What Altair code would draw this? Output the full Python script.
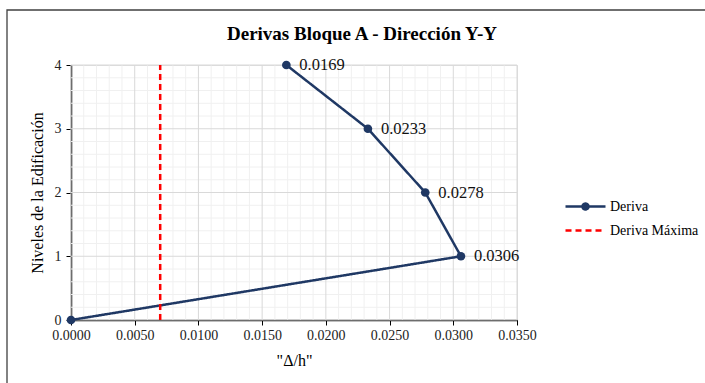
import altair as alt
import pandas as pd

# Story drift per level (Block A, Y-Y direction)
niveles = [0, 1, 2, 3, 4]
derivas = [0.0, 0.0306, 0.0278, 0.0233, 0.0169]
deriva_maxima = 0.007
serie_deriva = "Deriva"
serie_maxima = "Deriva Máxima"

# Axis ticks (major) and minor grid subdivisions
x_ticks = [0.0, 0.005, 0.01, 0.015, 0.02, 0.025, 0.03, 0.035]
y_ticks = [0, 1, 2, 3, 4]
x_minor = [round(i * 0.001, 3) for i in range(36) if i % 5 != 0]
y_minor = [round(i * 0.2, 1) for i in range(21) if i % 5 != 0]

FONT = "Liberation Serif"
NAVY = "#1F3864"
RED = "#FF0000"

deriva_df = pd.DataFrame({"serie": serie_deriva, "x": derivas, "y": niveles, "orden": niveles})
maxima_df = pd.DataFrame({"serie": serie_maxima, "x": [deriva_maxima, deriva_maxima],
                          "y": [niveles[0], niveles[-1]], "orden": [0, 1]})
lineas_df = pd.concat([deriva_df, maxima_df], ignore_index=True)
etiquetas_df = deriva_df[deriva_df["y"] > 0].copy()
etiquetas_df["texto"] = etiquetas_df["x"].map(lambda v: f"{v:.4f}")

x_axis = alt.Axis(
    values=x_ticks, format=".4f", grid=False,
    title='"Δ/h"', titleFont=FONT, titleFontSize=16, titleFontWeight="normal",
    titleColor="black", titlePadding=10,
    labelFont=FONT, labelFontSize=14, labelColor="#222", labelPadding=3,
    labelFlush=False, labelOverlap=False,
    tickColor="black", tickSize=5, domainColor="black", domainWidth=1.5,
)
y_axis = alt.Axis(
    values=y_ticks, format="d", grid=False,
    title="Niveles de la Edificación", titleFont=FONT, titleFontSize=16,
    titleFontWeight="normal", titleColor="black", titlePadding=9,
    labelFont=FONT, labelFontSize=14, labelColor="#222", labelPadding=5,
    labelOverlap=False,
    tickColor="black", tickSize=5, domainColor="black", domainWidth=1.5,
)

x_scale = alt.Scale(domain=[0, 0.035], nice=False, zero=False)
y_scale = alt.Scale(domain=[0, 4], nice=False)

# Grid: light minor lines first, then the darker major lines
def grid_x(valores, color):
    return alt.Chart(pd.DataFrame({"x": valores})).mark_rule(color=color, strokeWidth=1).encode(
        x=alt.X("x:Q", scale=x_scale, axis=x_axis))

def grid_y(valores, color):
    return alt.Chart(pd.DataFrame({"y": valores})).mark_rule(color=color, strokeWidth=1).encode(
        y=alt.Y("y:Q", scale=y_scale, axis=y_axis))

rejilla = [grid_x(x_minor, "#F0F0F0"), grid_y(y_minor, "#F0F0F0"),
           grid_x(x_ticks, "#D9D9D9"), grid_y(y_ticks, "#D9D9D9")]

# Deriva entry: line with a dot; Deriva Máxima entry: plain dashed line
simbolo_deriva = "M-2,0H2M0.3,0A0.3,0.3,0,1,1,-0.3,0A0.3,0.3,0,1,1,0.3,0Z"
leyenda = dict(
    title=None, orient="none", legendX=503, legendY=130,
    symbolSize=400, symbolStrokeWidth=2.5,
    symbolType={"expr": f"datum.value === '{serie_deriva}' ? '{simbolo_deriva}' : 'M-2,0H2'"},
    symbolFillColor={"expr": f"datum.value === '{serie_deriva}' ? '{NAVY}' : 'transparent'"},
    labelFont=FONT, labelFontSize=14, labelColor="black", labelOffset=13,
    rowPadding=4,
)

dominio = [serie_deriva, serie_maxima]
lineas = alt.Chart(lineas_df).mark_line(strokeWidth=2.5).encode(
    x=alt.X("x:Q", scale=x_scale, axis=x_axis),
    y=alt.Y("y:Q", scale=y_scale, axis=y_axis),
    color=alt.Color("serie:N", scale=alt.Scale(domain=dominio, range=[NAVY, RED]),
                    legend=alt.Legend(**leyenda)),
    strokeDash=alt.StrokeDash("serie:N", scale=alt.Scale(domain=dominio, range=[[1, 0], [6, 4]]),
                              legend=alt.Legend(**leyenda)),
    order="orden:Q",
)

puntos = alt.Chart(deriva_df).mark_circle(size=75, color=NAVY, opacity=1).encode(
    x="x:Q", y="y:Q"
)

etiquetas = alt.Chart(etiquetas_df).mark_text(
    align="left", baseline="middle", dx=13, font=FONT, fontSize=16.5, color="#111"
).encode(x="x:Q", y="y:Q", text="texto:N")

marco = alt.Chart(pd.DataFrame({"k": [0]})).mark_rect(
    fill="transparent", stroke="#404040", strokeWidth=1.3, clip=False
).encode(x=alt.value(-64), x2=alt.value(640), y=alt.value(-55), y2=alt.value(400))

chart = alt.layer(marco, *rejilla, lineas, puntos, etiquetas).properties(
    width=446, height=255,
    title=alt.Title("Derivas Bloque A - Dirección Y-Y", font=FONT, fontSize=19,
                    fontWeight="bold", color="black", anchor="middle", dx=68, offset=-35),
    autosize=alt.AutoSizeParams(type="none"),
    padding={"left": 71, "top": 65, "right": 188, "bottom": 63},
).configure_view(stroke="black", strokeWidth=1.5).configure(background="white")

chart.save("out.html", embed_options={"renderer": "svg", "actions": False})
